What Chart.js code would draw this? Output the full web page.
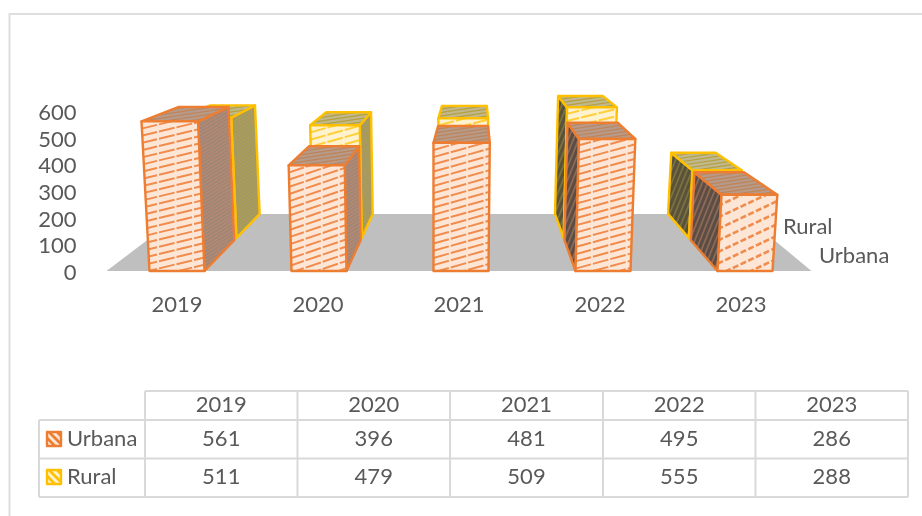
<!DOCTYPE html>
<html>
<head>
<meta charset="utf-8">
<title>Urbana / Rural</title>
<script src="https://cdn.jsdelivr.net/npm/chart.js@4"></script>
<style>
  html, body { margin: 0; background: #fff; }
  canvas { display: block; }
</style>
</head>
<body>
<canvas id="boxChart" width="922" height="516"></canvas>
<script>
const years = ['2019', '2020', '2021', '2022', '2023'];
const urbana = [561, 396, 481, 495, 286];
const rural = [511, 479, 509, 555, 288];
const yTicks = [0, 100, 200, 300, 400, 500, 600];

const TEXT = '#595959';
const FONT = 'Lato, sans-serif';
const FONT_SIZE = 22;

// perspective of the 3D view
const VANISH_X = 475, VANISH_Y = -9;
const LEAN = 0.000187, LEAN_CENTER = 435;
const SPREAD = 142 / 141;
const FLOOR_BACK = 0.796;

const looks = [
  { near: 1, far: 0.89, edge: '#ed7d31', face: '#fde6d6', line: '#f08c4e',
    right: ['#a08678', '#b98a70'], left: ['#5b4d45', '#8d6a55'], top: ['#b69a8a', '#bf8458'] },
  { near: 0.882, far: FLOOR_BACK, edge: '#ffc000', face: '#fff3cf', line: '#ffcf3a',
    right: ['#a39866', '#ad9f55'], left: ['#58523a', '#7c7140'], top: ['#c0b88e', '#b5a03e'] }
];

function hatch(ctx, poly, fill, stroke, slope, gap, width, dash) {
  const xs = poly.map(p => p[0]), ys = poly.map(p => p[1]);
  const x0 = Math.min(...xs), x1 = Math.max(...xs);
  const y0 = Math.min(...ys), y1 = Math.max(...ys);
  ctx.save();
  ctx.beginPath();
  poly.forEach((p, i) => i ? ctx.lineTo(p[0], p[1]) : ctx.moveTo(p[0], p[1]));
  ctx.closePath();
  ctx.fillStyle = fill;
  ctx.fill();
  ctx.clip();
  ctx.strokeStyle = stroke;
  ctx.lineWidth = width;
  ctx.setLineDash(dash || []);
  const rise = slope * (x1 - x0);
  for (let y = y0 + Math.min(0, rise); y < y1 + Math.max(0, rise); y += gap) {
    ctx.beginPath();
    ctx.moveTo(x0, y);
    ctx.lineTo(x1, y - rise);
    ctx.stroke();
  }
  ctx.restore();
}

function outline(ctx, poly, color) {
  ctx.beginPath();
  poly.forEach((p, i) => i ? ctx.lineTo(p[0], p[1]) : ctx.moveTo(p[0], p[1]));
  ctx.closePath();
  ctx.strokeStyle = color;
  ctx.lineWidth = 2.4;
  ctx.lineJoin = 'round';
  ctx.stroke();
}

function drawBox(ctx, bar, look, floorY, pivot) {
  const cx = pivot + (bar.x - pivot) * SPREAD;
  const left = cx - bar.width / 2, right = cx + bar.width / 2;
  const h = floorY - bar.y;

  const project = (x, y, s) => {
    const leaned = x + (x - LEAN_CENTER) * LEAN * (floorY - y);
    return [VANISH_X + (leaned - VANISH_X) * s, VANISH_Y + (y - VANISH_Y) * s];
  };

  const n = look.near, f = look.far;
  const frontBL = project(left, floorY, n), frontBR = project(right, floorY, n);
  const frontTL = project(left, bar.y, n), frontTR = project(right, bar.y, n);
  const backBL = project(left, floorY, f), backBR = project(right, floorY, f);
  const backTL = project(left, bar.y, f), backTR = project(right, bar.y, f);

  // only the side turned towards the vanishing point can be seen
  if (frontBR[0] < VANISH_X - 10) {
    const side = [frontTR, backTR, backBR, frontBR];
    hatch(ctx, side, look.right[0], look.right[1], 0.6, 3.5, 1.2);
    outline(ctx, side, look.edge);
  } else if (frontBL[0] > VANISH_X - 10) {
    const side = [frontTL, backTL, backBL, frontBL];
    hatch(ctx, side, look.left[0], look.left[1], 2.5, 13, 1.8);
    outline(ctx, side, look.edge);
  }

  const top = [frontTL, backTL, backTR, frontTR];
  hatch(ctx, top, look.top[0], look.top[1], 0.15, 3.5, 1.2);
  outline(ctx, top, look.edge);

  const front = [frontTL, frontTR, frontBR, frontBL];
  const short = h < 90;
  hatch(ctx, front, look.face, look.line, Math.min(0.55, 36 / h), short ? 11.5 : 7.2, short ? 2.6 : 2, short ? [6, 2.5] : [16, 2]);
  outline(ctx, front, look.edge);
}

// floor, then the back row and the front row of boxes
const boxes = {
  id: 'boxes',
  beforeDatasetsDraw(chart) {
    const ctx = chart.ctx;
    const area = chart.chartArea;
    const floorY = area.bottom;
    const back = (x) => VANISH_X + (x - VANISH_X) * FLOOR_BACK;
    ctx.save();
    ctx.fillStyle = '#bfbfbf';
    ctx.beginPath();
    ctx.moveTo(area.left, floorY);
    ctx.lineTo(area.right, floorY);
    ctx.lineTo(back(area.right), VANISH_Y + (floorY - VANISH_Y) * FLOOR_BACK);
    ctx.lineTo(back(area.left), VANISH_Y + (floorY - VANISH_Y) * FLOOR_BACK);
    ctx.closePath();
    ctx.fill();

    [1, 0].forEach(i => {
      const bars = chart.getDatasetMeta(i).data;
      const pivot = bars[0].x;
      bars.forEach(bar => drawBox(ctx, bar, looks[i], floorY, pivot));
    });

    // depth axis labels
    ctx.fillStyle = TEXT;
    ctx.font = FONT_SIZE + 'px ' + FONT;
    ctx.textBaseline = 'middle';
    ctx.textAlign = 'left';
    ctx.fillText(chart.data.datasets[1].label, 783, 227);
    ctx.fillText(chart.data.datasets[0].label, 819, 256);
    ctx.restore();
  }
};

// data table under the chart, plus the frame of the chart
const dataTable = {
  id: 'dataTable',
  afterDraw(chart) {
    const ctx = chart.ctx;
    const colX = [145, 297.5, 450, 603, 755.5, 908];
    const rowY = [391, 420, 458.5, 497];
    const labelX = 39;
    ctx.save();

    ctx.strokeStyle = '#dedede';
    ctx.lineWidth = 2;
    ctx.beginPath();
    ctx.moveTo(9.5, 516);
    ctx.lineTo(9.5, 14);
    ctx.lineTo(922, 14);
    ctx.stroke();

    ctx.strokeStyle = '#d9d9d9';
    ctx.beginPath();
    colX.forEach(x => { ctx.moveTo(x, rowY[0]); ctx.lineTo(x, rowY[3]); });
    ctx.moveTo(labelX, rowY[1]); ctx.lineTo(labelX, rowY[3]);
    ctx.moveTo(colX[0], rowY[0]); ctx.lineTo(colX[5], rowY[0]);
    ctx.moveTo(labelX, rowY[1]); ctx.lineTo(colX[5], rowY[1]);
    ctx.moveTo(labelX, rowY[2]); ctx.lineTo(colX[5], rowY[2]);
    ctx.moveTo(labelX, rowY[3]); ctx.lineTo(colX[5], rowY[3]);
    ctx.stroke();

    ctx.fillStyle = TEXT;
    ctx.font = FONT_SIZE + 'px ' + FONT;
    ctx.textBaseline = 'middle';
    ctx.textAlign = 'center';
    const cols = colX.slice(0, -1).map((x, i) => (x + colX[i + 1]) / 2);
    years.forEach((year, i) => ctx.fillText(year, cols[i], 405));
    urbana.forEach((v, i) => ctx.fillText(v, cols[i], 439));
    rural.forEach((v, i) => ctx.fillText(v, cols[i], 477));

    ctx.textAlign = 'left';
    [439, 477].forEach((y, i) => {
      const look = looks[i];
      const sq = [[47, y - 7], [61, y - 7], [61, y + 7], [47, y + 7]];
      hatch(ctx, sq, look.edge, look.face, -1, 8, 3);
      outline(ctx, sq, look.edge);
      ctx.fillStyle = TEXT;
      ctx.fillText(chart.data.datasets[i].label, 67, y);
    });
    ctx.restore();
  }
};

new Chart(document.getElementById('boxChart'), {
  type: 'bar',
  data: {
    labels: years,
    datasets: [
      { label: 'Urbana', data: urbana, backgroundColor: 'transparent' },
      { label: 'Rural', data: rural, backgroundColor: 'transparent' }
    ]
  },
  options: {
    responsive: false,
    animation: false,
    layout: { padding: { top: 111, right: 110.5 } },
    plugins: { legend: { display: false }, tooltip: { enabled: false } },
    datasets: { bar: { grouped: false, categoryPercentage: 1, barPercentage: 0.39 } },
    scales: {
      x: {
        grid: { display: false },
        border: { display: false },
        ticks: { color: TEXT, font: { family: FONT, size: FONT_SIZE }, padding: 13, maxRotation: 0 },
        afterFit(scale) { scale.height = 245; }
      },
      y: {
        min: yTicks[0],
        max: yTicks[yTicks.length - 1],
        afterBuildTicks(scale) { scale.ticks = yTicks.map(value => ({ value })); },
        grid: { display: false },
        border: { display: false },
        ticks: { color: TEXT, font: { family: FONT, size: FONT_SIZE }, padding: 22, autoSkip: false, labelOffset: 2 },
        afterFit(scale) { scale.width = 106.5; }
      }
    }
  },
  plugins: [boxes, dataTable]
});
</script>
</body>
</html>
